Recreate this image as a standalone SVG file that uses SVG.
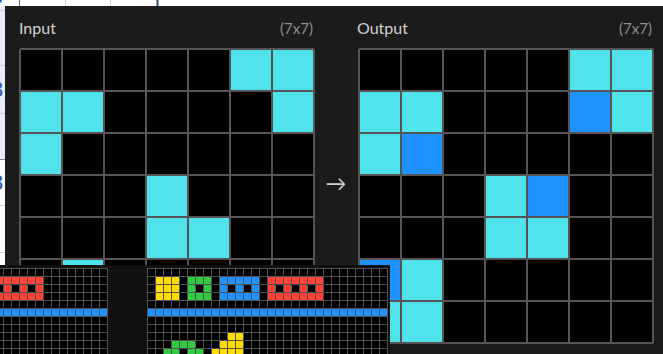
<svg xmlns="http://www.w3.org/2000/svg" width="663" height="354" viewBox="0 0 663 354">
<style>
.lbl{font-family:Lato,"Open Sans","Liberation Sans",sans-serif;font-size:16px;fill:#d2d2d2}
.dim{font-family:Lato,"Open Sans","Liberation Sans",sans-serif;font-size:15px;fill:#8f8f8f;text-anchor:end}
.cy{fill:#50e3ec}
.bl{fill:#1e93ff}
.gl{fill:none;stroke:#555;stroke-width:2}
.ye{fill:#ffdc00}
.gr{fill:#2ecc40}
.rd{fill:#ff4136}
.bk{fill:#000}
.pg{font-family:"Liberation Sans",sans-serif;font-size:22px;fill:#2f5aa8}
</style>
<defs>
<pattern id="sg" x="3" y="268" width="8" height="8" patternUnits="userSpaceOnUse">
<rect width="8" height="1" fill="#505050"/><rect width="1" height="8" fill="#505050"/>
</pattern>
<pattern id="sg2" x="147" y="268" width="8" height="8" patternUnits="userSpaceOnUse">
<rect width="8" height="1" fill="#505050"/><rect width="1" height="8" fill="#505050"/>
</pattern>
</defs>
<rect width="663" height="354" fill="#fff"/>
<rect x="0" y="6" width="5" height="153" fill="#e9eef6"/>
<g stroke="#c9d0dc" stroke-width="1">
<path d="M0 10.5H5M0 65.5H5M0 113.5H5M0 205.5H5M0 252.5H5"/>
<path d="M65.5 0V6M110.5 0V6"/>
</g>
<path d="M0 159.5H5" stroke="#7d8799"/>
<path d="M19.5 0V6" stroke="#5b6a86"/>
<path d="M157.5 0V6" stroke="#34495e" stroke-width="2"/>
<text class="pg" x="-9" y="4">0</text>
<text class="pg" x="-9" y="97">8</text>
<text class="pg" x="-9" y="190">8</text>
<rect x="5" y="6" width="658" height="348" fill="#1b1b1b"/>
<g id="input">
<text class="lbl" x="19" y="34">Input</text>
<text class="dim" x="313" y="34">(7x7)</text>
<rect x="20" y="49" width="294" height="294" fill="#000"/>
<rect class="cy" x="230" y="49" width="42" height="42"/>
<rect class="cy" x="272" y="49" width="42" height="42"/>
<rect class="cy" x="20" y="91" width="42" height="42"/>
<rect class="cy" x="62" y="91" width="42" height="42"/>
<rect class="cy" x="272" y="91" width="42" height="42"/>
<rect class="cy" x="20" y="133" width="42" height="42"/>
<rect class="cy" x="146" y="175" width="42" height="42"/>
<rect class="cy" x="146" y="217" width="42" height="42"/>
<rect class="cy" x="188" y="217" width="42" height="42"/>
<rect class="cy" x="62" y="259" width="42" height="42"/>
<rect class="cy" x="20" y="301" width="42" height="42"/>
<rect class="cy" x="62" y="301" width="42" height="42"/>
<path class="gl" d="M20 49V343M62 49V343M104 49V343M146 49V343M188 49V343M230 49V343M272 49V343M314 49V343M20 49H314M20 91H314M20 133H314M20 175H314M20 217H314M20 259H314M20 301H314M20 343H314"/>
</g>
<g id="connectors">
<text class="lbl" x="336" y="191" text-anchor="middle" style="fill:#cfcfcf;font-size:21px">→</text>
</g>
<g id="output">
<text class="lbl" x="357" y="34">Output</text>
<text class="dim" x="652" y="34">(7x7)</text>
<rect x="359" y="49" width="294" height="294" fill="#000"/>
<rect class="cy" x="569" y="49" width="42" height="42"/>
<rect class="cy" x="611" y="49" width="42" height="42"/>
<rect class="cy" x="359" y="91" width="42" height="42"/>
<rect class="cy" x="401" y="91" width="42" height="42"/>
<rect class="bl" x="569" y="91" width="42" height="42"/>
<rect class="cy" x="611" y="91" width="42" height="42"/>
<rect class="cy" x="359" y="133" width="42" height="42"/>
<rect class="bl" x="401" y="133" width="42" height="42"/>
<rect class="cy" x="485" y="175" width="42" height="42"/>
<rect class="bl" x="527" y="175" width="42" height="42"/>
<rect class="cy" x="485" y="217" width="42" height="42"/>
<rect class="cy" x="527" y="217" width="42" height="42"/>
<rect class="bl" x="359" y="259" width="42" height="42"/>
<rect class="cy" x="401" y="259" width="42" height="42"/>
<rect class="cy" x="359" y="301" width="42" height="42"/>
<rect class="cy" x="401" y="301" width="42" height="42"/>
<path class="gl" d="M359 49V343M401 49V343M443 49V343M485 49V343M527 49V343M569 49V343M611 49V343M653 49V343M359 49H653M359 91H653M359 133H653M359 175H653M359 217H653M359 259H653M359 301H653M359 343H653"/>
</g>
<g id="overlay">
<rect x="0" y="265" width="390" height="89" fill="#111"/>
<g id="small-left">
<rect x="0" y="268" width="108" height="86" fill="#000"/>
<rect class="rd" x="0" y="276" width="43" height="24"/>
<rect class="bk" x="0" y="284" width="3" height="8"/>
<rect class="bk" x="11" y="284" width="8" height="8"/>
<rect class="bk" x="27" y="284" width="8" height="8"/>
<rect class="bl" x="0" y="308" width="107" height="8"/>
<rect x="0" y="268" width="108" height="86" fill="url(#sg)"/>
</g>
<g id="small-right">
<rect x="147" y="268" width="241" height="86" fill="#000"/>
<rect class="ye" x="155" y="276" width="24" height="24"/>
<rect class="gr" x="187" y="276" width="24" height="24"/>
<rect class="bk" x="195" y="284" width="8" height="8"/>
<rect class="bl" x="219" y="276" width="40" height="24"/>
<rect class="bk" x="227" y="284" width="8" height="8"/>
<rect class="bk" x="243" y="284" width="8" height="8"/>
<rect class="rd" x="267" y="276" width="56" height="24"/>
<rect class="bk" x="275" y="284" width="8" height="8"/>
<rect class="bk" x="291" y="284" width="8" height="8"/>
<rect class="bk" x="307" y="284" width="8" height="8"/>
<rect class="bl" x="147" y="308" width="240" height="8"/>
<rect class="ye" x="227" y="332" width="16" height="8"/>
<rect class="ye" x="219" y="340" width="24" height="8"/>
<rect class="ye" x="211" y="348" width="32" height="8"/>
<rect class="gr" x="171" y="340" width="24" height="8"/>
<rect class="gr" x="163" y="348" width="16" height="8"/>
<rect class="gr" x="187" y="348" width="16" height="8"/>
<rect x="147" y="268" width="241" height="86" fill="url(#sg2)"/>
</g>
</g>
</svg>
